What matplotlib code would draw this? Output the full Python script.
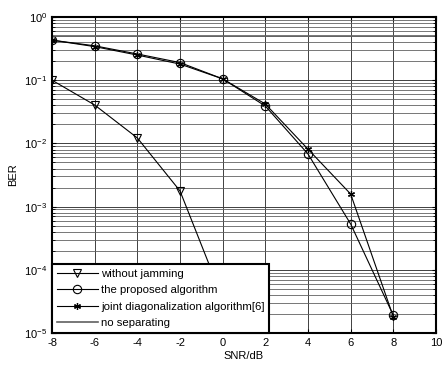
import matplotlib
matplotlib.use("Agg")
import matplotlib.pyplot as plt
from matplotlib.ticker import LogLocator, FixedLocator, NullFormatter

plt.rcParams['font.family'] = ['Liberation Sans', 'DejaVu Sans']
plt.rcParams['mathtext.fontset'] = 'custom'
plt.rcParams['mathtext.rm'] = 'Liberation Sans'

snr_wj = [-8, -6, -4, -2, 0]
ber_wj = [0.1, 0.0405, 0.0122, 0.00177, 3.5e-5]

snr = [-8, -6, -4, -2, 0, 2, 4, 6, 8]
ber_prop = [0.43, 0.35, 0.26, 0.19, 0.105, 0.039, 0.0068, 5.3e-4, 1.9e-5]
ber_jd = [0.43, 0.34, 0.25, 0.18, 0.105, 0.042, 0.0081, 1.58e-3, 1.8e-5]

nosep_x = [-8, 10]
nosep_y = [0.5, 0.5]

xticks = [-8, -6, -4, -2, 0, 2, 4, 6, 8, 10]

fig = plt.figure(figsize=(4.42, 3.65), dpi=100)
ax = fig.add_axes([52/442, 1 - 333/365, (436-52)/442, (333-17)/365])

ax.plot(snr_wj, ber_wj, color='black', lw=0.8, marker='v', mfc='none', mec='black', ms=6, mew=0.8, label='without jamming')
ax.plot(snr, ber_prop, color='black', lw=0.8, marker='o', mfc='none', mec='black', ms=6, mew=0.8, label='the proposed algorithm')
ax.plot(snr, ber_jd, color='black', lw=0.8, marker=(6, 2, 0), mfc='none', mec='black', ms=5, mew=0.9, label='joint diagonalization algorithm[6]')
ax.plot(nosep_x, nosep_y, color='#606060', lw=1.2, label='no separating')

ax.set_yscale('log')
ax.set_xlim(-8, 10)
ax.set_ylim(1e-5, 1)
ax.xaxis.set_major_locator(FixedLocator(xticks))
ax.set_xticklabels([str(t) for t in xticks])
ax.yaxis.set_major_locator(LogLocator(base=10, numticks=10))
ax.yaxis.set_minor_locator(LogLocator(base=10, subs=range(2, 10), numticks=20))
ax.yaxis.set_minor_formatter(NullFormatter())

ax.grid(True, which='major', color='#404040', lw=0.7)
ax.grid(True, which='minor', axis='y', color='#606060', lw=0.6)
ax.set_axisbelow(True)

ax.tick_params(which='both', direction='in', top=True, right=True, labelsize=8)
ax.tick_params(which='major', length=3)
ax.tick_params(which='minor', length=2)
for s in ax.spines.values():
    s.set_linewidth(1.5)

ax.set_xlabel('SNR/dB', fontsize=8, labelpad=2)
ax.set_ylabel('BER', fontsize=8, labelpad=4)

leg = ax.legend(loc='lower left', fontsize=8.2, frameon=True, fancybox=False,
                borderaxespad=0, handlelength=3.6, handletextpad=0.3,
                labelspacing=0.57, borderpad=0.42)
leg.get_frame().set_edgecolor('black')
leg.get_frame().set_linewidth(1.5)
leg.get_frame().set_alpha(1)

fig.savefig('out.png', dpi=100)
